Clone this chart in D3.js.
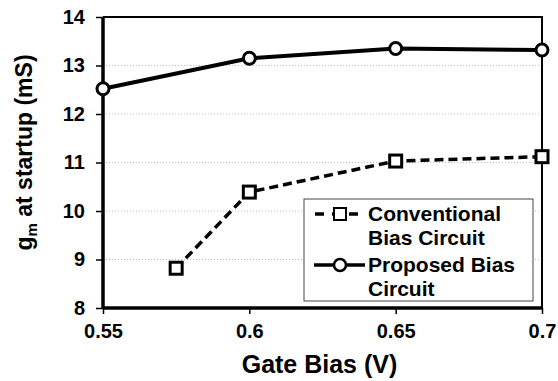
<!DOCTYPE html>
<html>
<head>
<meta charset="utf-8">
<script src="https://cdn.jsdelivr.net/npm/d3@7"></script>
<style>
  body { margin: 0; background: #fff; }
  text { font-family: "Liberation Sans", Arial, sans-serif; font-weight: bold; fill: #000; }
</style>
</head>
<body>
<script>
// data
var conventionalX = [0.575, 0.6, 0.65, 0.7];
var conventionalY = [8.82, 10.39, 11.03, 11.12];
var proposedX = [0.55, 0.6, 0.65, 0.7];
var proposedY = [12.52, 13.15, 13.35, 13.32];
var xTicks = [0.55, 0.6, 0.65, 0.7];
var yTicks = [8, 9, 10, 11, 12, 13, 14];
var seriesNames = [["Conventional", "Bias Circuit"], ["Proposed Bias", "Circuit"]];

var outerWidth = 558, outerHeight = 381,
    margin = {top: 17, right: 16, bottom: 73, left: 103},
    innerWidth = outerWidth - margin.left - margin.right,
    innerHeight = outerHeight - margin.top - margin.bottom;

var svg = d3.select("body").append("svg")
    .attr("width", outerWidth)
    .attr("height", outerHeight);

var plot = svg.append("g")
    .attr("transform", "translate(" + margin.left + "," + margin.top + ")");

var xScale = d3.scaleLinear().domain([0.55, 0.7]).range([0, innerWidth]);
var yScale = d3.scaleLinear().domain([8, 14]).range([innerHeight, 0]);

// dotted gridlines
plot.append("g").selectAll("line")
    .data(yTicks.filter(d => d > 8 && d < 14))
    .enter().append("line")
    .attr("x1", 0).attr("x2", innerWidth)
    .attr("y1", d => yScale(d)).attr("y2", d => yScale(d))
    .attr("stroke", "#bbb")
    .attr("stroke-width", 1)
    .attr("stroke-dasharray", "1,2");

// frame top + right
plot.append("path")
    .attr("d", "M0,0H" + innerWidth + "V" + innerHeight)
    .attr("fill", "none")
    .attr("stroke", "#000")
    .attr("stroke-width", 2);

// axes
var xAxis = d3.axisBottom(xScale).tickValues(xTicks)
    .tickFormat(d3.format("")).tickSize(6).tickPadding(10);
var xg = plot.append("g")
    .attr("transform", "translate(0," + innerHeight + ")")
    .call(xAxis);

var yAxis = d3.axisLeft(yScale).tickValues(yTicks)
    .tickFormat(d3.format("d")).tickSize(7).tickPadding(11);
var yg = plot.append("g").call(yAxis);

[xg, yg].forEach(g => {
  g.attr("font-size", 20)
    .attr("font-family", "Liberation Sans, Arial, sans-serif")
    .attr("font-weight", "bold");
  g.select(".domain").attr("stroke-width", 3.5);
  g.selectAll(".tick line").attr("stroke-width", 1.5);
  g.selectAll(".tick text")
    .style("font-size", "20px")
    .style("font-weight", "bold");
});
xg.select(".domain").attr("d", "M0,0H" + innerWidth);
yg.select(".domain").attr("d", "M0," + innerHeight + "V0");

// lines
var line = d3.line()
    .x(d => xScale(d[0]))
    .y(d => yScale(d[1]));

var convData = conventionalX.map((x, i) => [x, conventionalY[i]]);
var propData = proposedX.map((x, i) => [x, proposedY[i]]);

plot.append("path")
    .datum(convData)
    .attr("fill", "none")
    .attr("stroke", "#000")
    .attr("stroke-width", 3.5)
    .attr("stroke-dasharray", "9,5")
    .attr("d", line);

plot.append("path")
    .datum(propData)
    .attr("fill", "none")
    .attr("stroke", "#000")
    .attr("stroke-width", 4)
    .attr("d", line);

// markers
plot.append("g").selectAll("rect")
    .data(convData)
    .enter().append("rect")
    .attr("x", d => xScale(d[0]) - 6)
    .attr("y", d => yScale(d[1]) - 6)
    .attr("width", 12).attr("height", 12)
    .attr("fill", "#fff")
    .attr("stroke", "#000")
    .attr("stroke-width", 3);

plot.append("g").selectAll("circle")
    .data(propData)
    .enter().append("circle")
    .attr("cx", d => xScale(d[0]))
    .attr("cy", d => yScale(d[1]))
    .attr("r", 6)
    .attr("fill", "#fff")
    .attr("stroke", "#000")
    .attr("stroke-width", 3);

// legend
var legend = svg.append("g").attr("transform", "translate(304,199)");
legend.append("rect")
    .attr("width", 229).attr("height", 102)
    .attr("fill", "#fff")
    .attr("stroke", "#444")
    .attr("stroke-width", 1);

var rows = [{y: 15, dash: "9,5", shape: "rect"}, {y: 66, dash: null, shape: "circle"}];
rows.forEach((r, i) => {
  var ln = legend.append("line")
      .attr("x1", 10).attr("x2", 61)
      .attr("y1", r.y).attr("y2", r.y)
      .attr("stroke", "#000").attr("stroke-width", 3.5);
  if (r.dash) ln.attr("stroke-dasharray", "9,8").attr("stroke-dashoffset", -1);
  if (r.shape === "rect") {
    legend.append("rect").attr("x", 30).attr("y", r.y - 6)
        .attr("width", 12).attr("height", 12)
        .attr("fill", "#fff").attr("stroke", "#000").attr("stroke-width", 2);
  } else {
    legend.append("circle").attr("cx", 36).attr("cy", r.y).attr("r", 6)
        .attr("fill", "#fff").attr("stroke", "#000").attr("stroke-width", 2.5);
  }
  seriesNames[i].forEach((t, j) => {
    legend.append("text")
        .attr("x", 64)
        .attr("y", r.y + 7 + j * 24)
        .style("font-size", "21px")
        .text(t);
  });
});

// axis titles
svg.append("text")
    .attr("x", margin.left + innerWidth / 2 - 3)
    .attr("y", 373)
    .attr("text-anchor", "middle")
    .style("font-size", "25px")
    .text("Gate Bias (V)");

var yl = svg.append("text")
    .attr("transform", "translate(32," + (margin.top + innerHeight / 2 - 10) + ") rotate(-90)")
    .attr("text-anchor", "middle")
    .style("font-size", "23px");
yl.append("tspan").text("g");
yl.append("tspan").attr("dy", 5).style("font-size", "15px").text("m");
yl.append("tspan").attr("dy", -5).text(" at startup (mS)");
</script>
</body>
</html>
